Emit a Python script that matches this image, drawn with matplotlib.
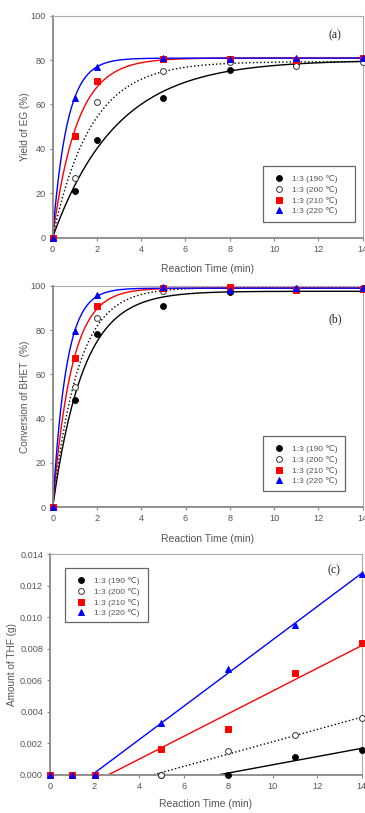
import numpy as np
import matplotlib
matplotlib.use("Agg")
import matplotlib.pyplot as plt
from matplotlib.patches import Rectangle

plt.rcParams['font.family'] = ['Liberation Sans', 'DejaVu Sans']

# ---------------- data ----------------
time_min = [0, 1, 2, 5, 8, 11, 14]
series_labels = ['1:3 (190 \u2103)', '1:3 (200 \u2103)', '1:3 (210 \u2103)', '1:3 (220 \u2103)']

yield_eg_190 = [0, 21, 44, 63, 75.5, 78.5, 80]
yield_eg_200 = [0, 27, 61, 75, 79, 77.5, 79]
yield_eg_210 = [0, 46, 70.5, 80.5, 80.5, 80, 81]
yield_eg_220 = [0, 63, 77, 81, 80.5, 81, 81]

conv_bhet_190 = [0, 48.5, 78, 90.7, 97.3, 98.5, 99]
conv_bhet_200 = [0, 54.5, 85.3, 97.4, 98.8, 98.6, 99]
conv_bhet_210 = [0, 67.5, 91, 99, 99.2, 98, 98.5]
conv_bhet_220 = [0, 79.4, 96, 99.2, 98, 98.8, 99]

thf_190 = [0, 0, 0, 0, 0, 0.0011, 0.00157]
thf_200 = [0, 0, 0, 0, 0.0015, 0.0025, 0.00358]
thf_210 = [0, 0, 0, 0.00161, 0.00288, 0.00648, 0.00839]
thf_220 = [0, 0, 0, 0.00328, 0.00674, 0.00949, 0.01275]

x_ticks = [0, 2, 4, 6, 8, 10, 12, 14]
pct_ticks = [0, 20, 40, 60, 80, 100]
thf_ticks = [0, 0.002, 0.004, 0.006, 0.008, 0.010, 0.012, 0.014]

# ---------------- styles ----------------
TXT = '#555555'
SP = '#888888'
styles = [
    dict(marker='o', mfc='black', mec='black', color='black', ls='-'),
    dict(marker='o', mfc='white', mec='#333333', color='black', ls=':'),
    dict(marker='s', mfc='#ff0000', mec='#ff0000', color='#ff0000', ls='-'),
    dict(marker='^', mfc='#0000ff', mec='#0000ff', color='#0000ff', ls='-'),
]
MS = 4.2

fig = plt.figure(figsize=(3.65, 8.13), dpi=100)
W, H = 365.0, 813.0


def make_axes(l, r, t, b):
    return fig.add_axes([l / W, (H - b) / H, (r - l) / W, (b - t) / H])


def style_axes(ax):
    for s in ['left', 'bottom']:
        ax.spines[s].set_color(SP)
        ax.spines[s].set_linewidth(1.3)
    for s in ['top', 'right']:
        ax.spines[s].set_color('#aaaaaa')
        ax.spines[s].set_linewidth(0.8)
    ax.tick_params(direction='out', length=2.5, width=0.8, color=SP,
                   labelsize=6.6, labelcolor=TXT, pad=2.5)
    ax.set_xlim(0, 14)
    ax.set_xticks(x_ticks)


def first_order_fit(t, y):
    t = np.asarray(t, float)
    y = np.asarray(y, float)
    best = None
    for k in np.linspace(0.05, 5, 2000):
        f = 1 - np.exp(-k * t)
        A = np.dot(f, y) / np.dot(f, f)
        err = np.sum((A * f - y) ** 2)
        if best is None or err < best[0]:
            best = (err, A, k)
    return best[1], best[2]


def legend_box(ax, handles, x0, y0, x1, y1):
    leg = ax.legend(handles, series_labels, loc='upper left',
                    bbox_to_anchor=(x0 + 0.01, y1 - 0.005), frameon=False,
                    fontsize=6, handlelength=1.2, handletextpad=0.9,
                    labelspacing=0.33, borderpad=0.5, labelcolor=TXT)
    ax.add_patch(Rectangle((x0, y0), x1 - x0, y1 - y0, transform=ax.transAxes,
                           fill=True, facecolor='white', edgecolor='#666666',
                           lw=0.9, zorder=4))
    leg.set_zorder(5)


def curve_panel(ax, data, ylabel, ylab_x):
    style_axes(ax)
    tt = np.linspace(0, 14, 300)
    handles = []
    for y, st in zip(data, styles):
        A, k = first_order_fit(time_min, y)
        ax.plot(tt, A * (1 - np.exp(-k * tt)), color=st['color'], ls=st['ls'],
                lw=1.0, zorder=2, clip_on=False)
    for y, st in zip(data, styles):
        h, = ax.plot(time_min, y, ls='none', marker=st['marker'], ms=MS,
                     mfc=st['mfc'], mec=st['mec'], mew=0.7, zorder=3, clip_on=False)
        handles.append(h)
    ax.set_ylim(0, 100)
    ax.set_yticks(pct_ticks)
    ax.set_ylabel(ylabel, fontsize=7.2, color=TXT)
    ax.yaxis.set_label_coords(ylab_x, 0.5)
    ax.set_xlabel('Reaction Time (min)', fontsize=7.5, color=TXT)
    ax.xaxis.set_label_coords(0.5, -0.12)
    return handles


# ---------------- (a) ----------------
ax1 = make_axes(52.5, 362.7, 15.7, 237.7)
h = curve_panel(ax1, [yield_eg_190, yield_eg_200, yield_eg_210, yield_eg_220],
                'Yield of EG (%)', -0.074)
legend_box(ax1, h, 0.678, 0.072, 0.976, 0.324)
ax1.text(0.911, 0.913, '(a)', transform=ax1.transAxes, fontsize=8.5,
         family='Liberation Serif', color='#222222', ha='center', va='center')

# ---------------- (b) ----------------
ax2 = make_axes(52.7, 362.7, 285.7, 507.3)
h = curve_panel(ax2, [conv_bhet_190, conv_bhet_200, conv_bhet_210, conv_bhet_220],
                'Conversion of BHET  (%)', -0.074)
legend_box(ax2, h, 0.677, 0.075, 0.943, 0.323)
ax2.text(0.911, 0.848, '(b)', transform=ax2.transAxes, fontsize=8.5,
         family='Liberation Serif', color='#222222', ha='center', va='center')

# ---------------- (c) ----------------
ax3 = make_axes(50.0, 361.7, 554.3, 774.7)
style_axes(ax3)
handles = []
for y, st in zip([thf_190, thf_200, thf_210, thf_220], styles):
    y_arr = np.asarray(y, float)
    t_arr = np.asarray(time_min, float)
    last0 = max(i for i, v in enumerate(y_arr) if v == 0)
    slope, icpt = np.polyfit(t_arr[last0:], y_arr[last0:], 1)
    x0 = max(-icpt / slope, 0)
    xs = np.array([x0, 14])
    ax3.plot(xs, slope * xs + icpt, color=st['color'], ls=st['ls'], lw=1.0, zorder=2)
for y, st in zip([thf_190, thf_200, thf_210, thf_220], styles):
    h3, = ax3.plot(time_min, y, ls='none', marker=st['marker'], ms=MS,
                   mfc=st['mfc'], mec=st['mec'], mew=0.7, zorder=3, clip_on=False)
    handles.append(h3)
ax3.set_ylim(0, 0.014)
ax3.set_yticks(thf_ticks)
ax3.set_yticklabels(['%.3f' % v for v in thf_ticks])
ax3.set_ylabel('Amount of THF (g)', fontsize=7.2, color=TXT)
ax3.yaxis.set_label_coords(-0.105, 0.5)
ax3.set_xlabel('Reaction Time (min)', fontsize=7.5, color=TXT)
ax3.xaxis.set_label_coords(0.5, -0.11)
legend_box(ax3, handles, 0.048, 0.691, 0.315, 0.939)
ax3.text(0.911, 0.929, '(c)', transform=ax3.transAxes, fontsize=8.5,
         family='Liberation Serif', color='#222222', ha='center', va='center')

fig.savefig('out.png', dpi=100)
